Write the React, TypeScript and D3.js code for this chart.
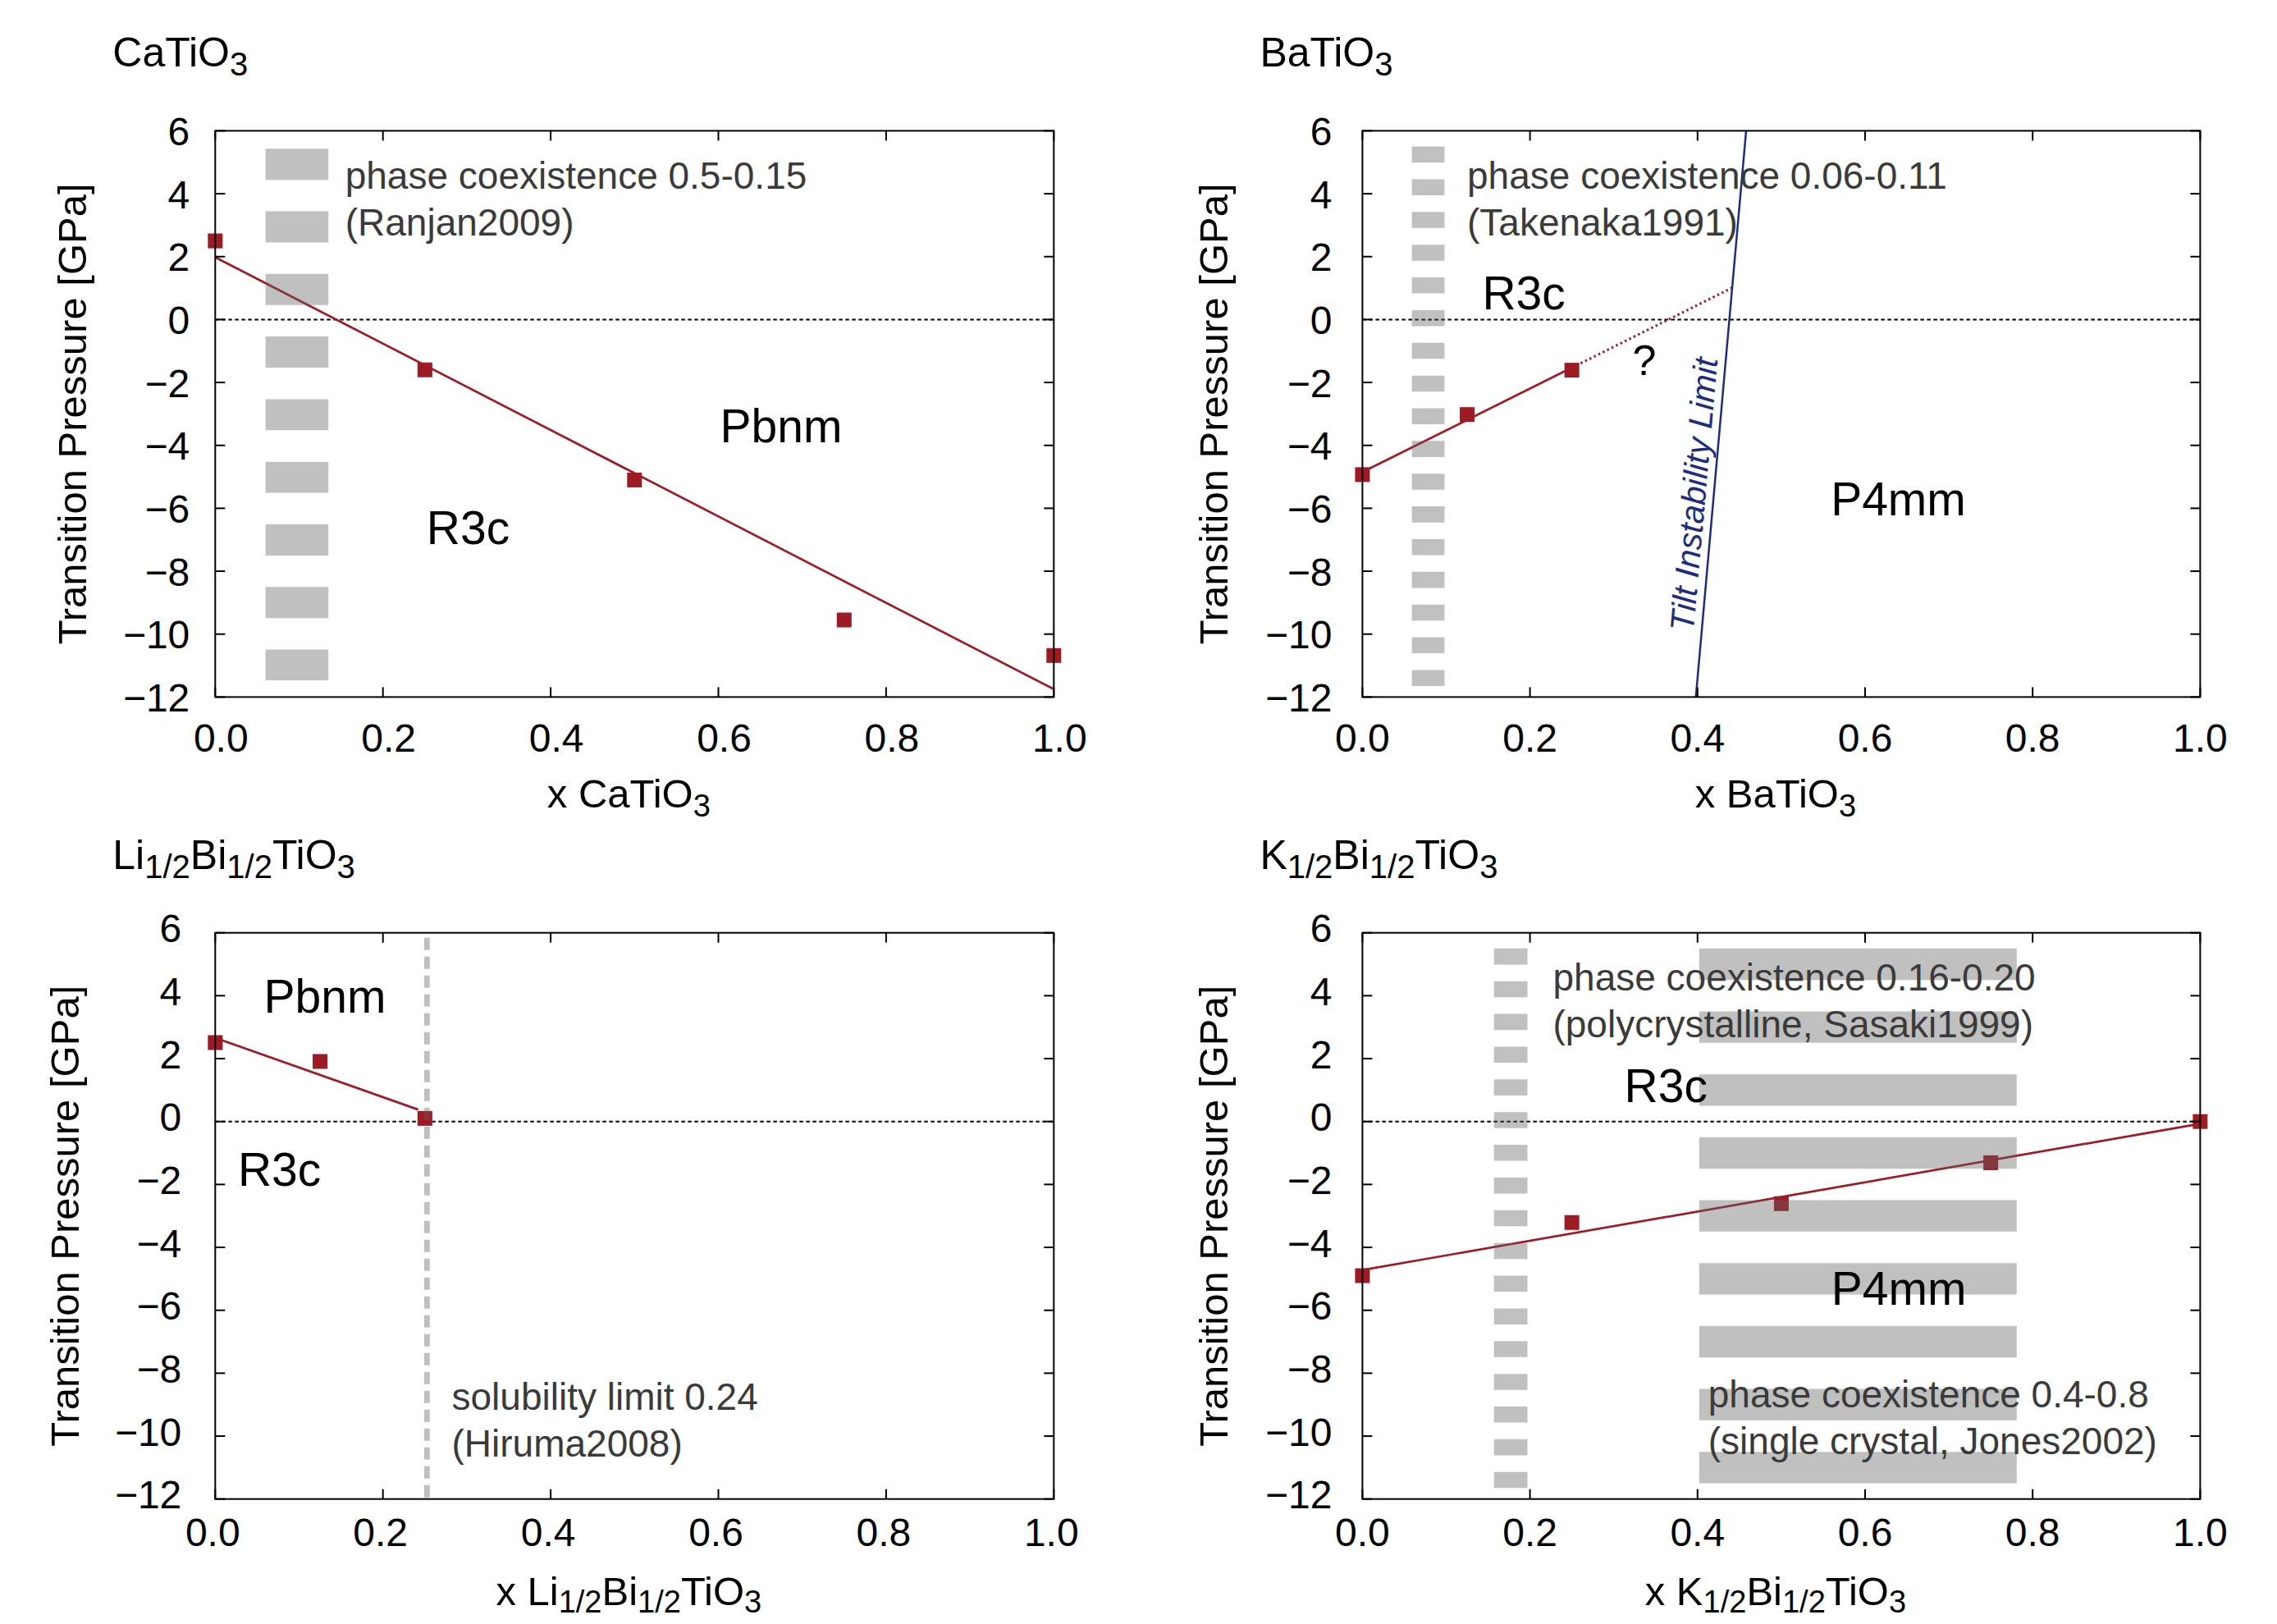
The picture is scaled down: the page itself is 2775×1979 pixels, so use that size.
import React from 'react';
import * as d3 from 'd3';

const W = 2775;
const H = 1979;
const FONT = '"Liberation Sans", Arial, Helvetica, sans-serif';
const RED = '#9c1b24';
const NAVY = '#1f2d7a';
const ANNOT = '#3a3a3a';
const BAND = 'rgb(97,97,97)';

// shared axes
const xTicks = [0, 0.2, 0.4, 0.6, 0.8, 1.0];
const yTicks = [-12, -10, -8, -6, -4, -2, 0, 2, 4, 6];
const yDomain = [-12, 6];

// CaTiO3
const caX = [0, 0.25, 0.5, 0.75, 1.0];
const caP = [2.5, -1.6, -5.1, -9.55, -10.68];
const caFit = [[0, 1.98], [1, -11.75]];

// BaTiO3
const baX = [0, 0.125, 0.25];
const baP = [-4.93, -3.02, -1.61];
const baFit = [[0, -4.85], [0.25, -1.53]];
const baFitExtra = [[0.25, -1.53], [0.442, 1.02]];
const tiltLimit = [[0.398, -12], [0.458, 6]];

// Li1/2Bi1/2TiO3
const lbtX = [0, 0.125, 0.25];
const lbtP = [2.51, 1.91, 0.1];
const lbtFit = [[0, 2.66], [0.242, 0.38]];

// K1/2Bi1/2TiO3
const kbtX = [0, 0.25, 0.5, 0.75, 1.0];
const kbtP = [-4.9, -3.21, -2.61, -1.31, 0.0];
const kbtFit = [[0, -4.72], [1, -0.07]];

// coexistence bands (thick dashed lines, in data units)
const caBands = [{ x0: 0.06, x1: 0.135, top: 5.43, bottom: -11.47, on: 0.99, off: 1.0 }];
const baBands = [{ x0: 0.059, x1: 0.098, top: 5.5, bottom: -11.65, on: 0.51, off: 0.53 }];
const lbtBands = [{ x0: 0.2491, x1: 0.2559, top: 5.84, bottom: -12.13, on: 0.39, off: 0.21 }];
const kbtBands = [
  { x0: 0.157, x1: 0.197, top: 5.5, bottom: -11.65, on: 0.51, off: 0.53 },
  { x0: 0.402, x1: 0.781, top: 5.5, bottom: -11.5, on: 1.0, off: 1.0 },
];

type Seg = { t: string; sub?: boolean };
const half = '1/2';

const panels = [
  {
    left: 262.3, top: 159.4, width: 1022, height: 690,
    title: [{ t: 'CaTiO' }, { t: '3', sub: true }],
    xlabel: [{ t: 'x CaTiO' }, { t: '3', sub: true }],
    xs: caX, ps: caP, fit: caFit, dotted: null, tilt: null, bands: caBands,
    yLabelOff: 157, yTickOff: 31, yTickDy: 17.5, xTickDy: 67, xTickDx: 7, xLabelDy: 135, subShift: 11,
    notes: [
      { lines: ['phase coexistence 0.5-0.15', '(Ranjan2009)'], x: 0.155, y: 4.17 },
    ],
    phases: [
      { t: 'Pbnm', x: 0.602, y: -3.9 },
      { t: 'R3c', x: 0.252, y: -7.15 },
    ],
  },
  {
    left: 1660.4, top: 159.4, width: 1021, height: 690,
    title: [{ t: 'BaTiO' }, { t: '3', sub: true }],
    xlabel: [{ t: 'x BaTiO' }, { t: '3', sub: true }],
    xs: baX, ps: baP, fit: baFit, dotted: baFitExtra, tilt: tiltLimit, bands: baBands,
    yLabelOff: 164, yTickOff: 37, yTickDy: 17.5, xTickDy: 67, xTickDx: 0, xLabelDy: 135, subShift: 11,
    notes: [
      { lines: ['phase coexistence 0.06-0.11', '(Takenaka1991)'], x: 0.125, y: 4.16 },
    ],
    phases: [
      { t: 'R3c', x: 0.143, y: 0.33 },
      { t: 'P4mm', x: 0.559, y: -6.23 },
      { t: '?', x: 0.3365, y: -1.76, anchor: 'middle', size: 52 },
    ],
  },
  {
    left: 262.3, top: 1136.7, width: 1022, height: 690,
    title: [{ t: 'Li' }, { t: half, sub: true }, { t: 'Bi' }, { t: half, sub: true }, { t: 'TiO' }, { t: '3', sub: true }],
    xlabel: [{ t: 'x Li' }, { t: half, sub: true }, { t: 'Bi' }, { t: half, sub: true }, { t: 'TiO' }, { t: '3', sub: true }],
    xs: lbtX, ps: lbtP, fit: lbtFit, dotted: null, tilt: null, bands: lbtBands,
    yLabelOff: 166, yTickOff: 41, yTickDy: 11.5, xTickDy: 57, xTickDx: -3, xLabelDy: 129, subShift: 9,
    notes: [
      { lines: ['solubility limit 0.24', '(Hiruma2008)'], x: 0.282, y: -9.17 },
    ],
    phases: [
      { t: 'Pbnm', x: 0.058, y: 3.46 },
      { t: 'R3c', x: 0.027, y: -2.03 },
    ],
  },
  {
    left: 1660.4, top: 1136.7, width: 1021, height: 690,
    title: [{ t: 'K' }, { t: half, sub: true }, { t: 'Bi' }, { t: half, sub: true }, { t: 'TiO' }, { t: '3', sub: true }],
    xlabel: [{ t: 'x K' }, { t: half, sub: true }, { t: 'Bi' }, { t: half, sub: true }, { t: 'TiO' }, { t: '3', sub: true }],
    xs: kbtX, ps: kbtP, fit: kbtFit, dotted: null, tilt: null, bands: kbtBands,
    yLabelOff: 164, yTickOff: 37, yTickDy: 11.5, xTickDy: 57, xTickDx: 0, xLabelDy: 129, subShift: 9,
    notes: [
      { lines: ['phase coexistence 0.16-0.20', '(polycrystalline, Sasaki1999)'], x: 0.2273, y: 4.17 },
      { lines: ['phase coexistence 0.4-0.8', '(single crystal, Jones2002)'], x: 0.4127, y: -9.09 },
    ],
    phases: [
      { t: 'R3c', x: 0.3126, y: 0.61 },
      { t: 'P4mm', x: 0.5596, y: -5.82 },
    ],
  },
];

function Rich({ segs, size, subSize, shift, ...rest }: any) {
  let level = 0;
  return (
    <text fontFamily={FONT} fontSize={size} {...rest}>
      {segs.map((s: Seg, i: number) => {
        const target = s.sub ? 1 : 0;
        const dy = (target - level) * shift;
        level = target;
        return (
          <tspan key={i} dy={dy} fontSize={s.sub ? subSize : size}>
            {s.t}
          </tspan>
        );
      })}
    </text>
  );
}

function Panel({ cfg }: any) {
  const x = d3.scaleLinear().domain([0, 1]).range([cfg.left, cfg.left + cfg.width]);
  const y = d3.scaleLinear().domain(yDomain).range([cfg.top + cfg.height, cfg.top]);
  const k = y(0) - y(1);
  const line = d3.line<number[]>().x((d) => x(d[0])).y((d) => y(d[1]));
  const bottom = cfg.top + cfg.height;
  const right = cfg.left + cfg.width;
  const fmtX = d3.format('.1f');
  const fmtY = d3.format('d');
  const tickLen = 12;

  let tiltEl = null;
  if (cfg.tilt) {
    const [a, b] = cfg.tilt;
    const ang = (Math.atan2(y(b[1]) - y(a[1]), x(b[0]) - x(a[0])) * 180) / Math.PI;
    const tStart = -9.96;
    const f = (tStart - a[1]) / (b[1] - a[1]);
    const tx = x(a[0] + f * (b[0] - a[0]));
    const ty = y(tStart);
    tiltEl = (
      <g>
        <path d={line(cfg.tilt) || ''} stroke={NAVY} strokeWidth={2.5} fill="none" />
        <text
          transform={`translate(${tx},${ty}) rotate(${ang})`}
          y={-10}
          fontFamily={FONT}
          fontStyle="italic"
          fontSize={41}
          fill={NAVY}
        >
          Tilt Instability Limit
        </text>
      </g>
    );
  }

  return (
    <g>
      {/* zero line */}
      <line x1={cfg.left} x2={right} y1={y(0)} y2={y(0)} stroke="#000" strokeWidth={2} strokeDasharray="4.5 3.5" />

      {/* fit lines */}
      <path d={line(cfg.fit) || ''} stroke={RED} strokeWidth={2.7} fill="none" />
      {cfg.dotted && (
        <path d={line(cfg.dotted) || ''} stroke={RED} strokeWidth={3} strokeDasharray="2.5 3.5" fill="none" />
      )}

      {/* data points */}
      {cfg.xs.map((xv: number, i: number) => (
        <rect key={i} x={x(xv) - 9} y={y(cfg.ps[i]) - 9} width={18} height={18} fill={RED} />
      ))}

      {tiltEl}

      {/* coexistence bands */}
      {cfg.bands.map((b: any, i: number) => (
        <line
          key={i}
          x1={(x(b.x0) + x(b.x1)) / 2}
          x2={(x(b.x0) + x(b.x1)) / 2}
          y1={y(b.top)}
          y2={y(b.bottom)}
          stroke={BAND}
          strokeOpacity={0.4}
          strokeWidth={x(b.x1) - x(b.x0)}
          strokeDasharray={`${b.on * k} ${b.off * k}`}
        />
      ))}

      {/* annotations */}
      {cfg.notes.map((n: any, i: number) => (
        <text key={i} fontFamily={FONT} fontSize={46} fill={ANNOT}>
          {n.lines.map((ln: string, j: number) => (
            <tspan key={j} x={x(n.x)} y={y(n.y) + j * 57}>
              {ln}
            </tspan>
          ))}
        </text>
      ))}
      {cfg.phases.map((p: any, i: number) => (
        <text
          key={i}
          x={x(p.x)}
          y={y(p.y)}
          fontFamily={FONT}
          fontSize={p.size || 57}
          textAnchor={p.anchor || 'start'}
          fill="#000"
        >
          {p.t}
        </text>
      ))}

      {/* frame and ticks */}
      <rect x={cfg.left} y={cfg.top} width={cfg.width} height={cfg.height} fill="none" stroke="#000" strokeWidth={2} />
      {xTicks.map((t) => (
        <g key={'xt' + t}>
          <line x1={x(t)} x2={x(t)} y1={bottom} y2={bottom - tickLen} stroke="#000" strokeWidth={2} />
          <line x1={x(t)} x2={x(t)} y1={cfg.top} y2={cfg.top + tickLen} stroke="#000" strokeWidth={2} />
          <text
            x={x(t) + cfg.xTickDx}
            y={bottom + cfg.xTickDy}
            textAnchor="middle"
            fontFamily={FONT}
            fontSize={48}
          >
            {fmtX(t)}
          </text>
        </g>
      ))}
      {yTicks.map((t) => (
        <g key={'yt' + t}>
          <line x1={cfg.left} x2={cfg.left + tickLen} y1={y(t)} y2={y(t)} stroke="#000" strokeWidth={2} />
          <line x1={right} x2={right - tickLen} y1={y(t)} y2={y(t)} stroke="#000" strokeWidth={2} />
          <text
            x={cfg.left - cfg.yTickOff}
            y={y(t) + cfg.yTickDy}
            textAnchor="end"
            fontFamily={FONT}
            fontSize={48}
          >
            {fmtY(t)}
          </text>
        </g>
      ))}

      {/* axis labels and title */}
      <text
        transform={`translate(${cfg.left - cfg.yLabelOff},${cfg.top + cfg.height / 2}) rotate(-90)`}
        textAnchor="middle"
        fontFamily={FONT}
        fontSize={49}
      >
        Transition Pressure [GPa]
      </text>
      <Rich
        segs={cfg.xlabel}
        size={49}
        subSize={38}
        shift={cfg.subShift}
        x={(cfg.left + right) / 2 - 7}
        y={bottom + cfg.xLabelDy}
        textAnchor="middle"
      />
      <Rich segs={cfg.title} size={50} subSize={40} shift={11} x={cfg.left - 125} y={cfg.top - 78} />
    </g>
  );
}

export default function App() {
  return (
    <svg
      width={W}
      height={H}
      viewBox={`0 0 ${W} ${H}`}
      style={{ position: 'absolute', left: 0, top: 0, display: 'block' }}
    >
      <rect width={W} height={H} fill="#fff" />
      {panels.map((p, i) => (
        <Panel key={i} cfg={p} />
      ))}
    </svg>
  );
}
